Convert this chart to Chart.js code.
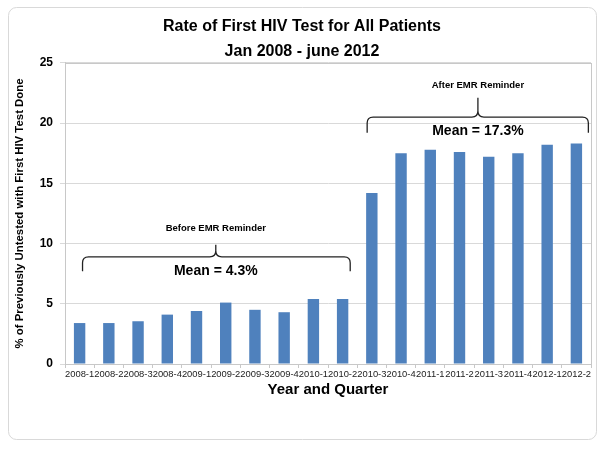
<!DOCTYPE html>
<html>
<head>
<meta charset="utf-8">
<script src="https://cdn.jsdelivr.net/npm/chart.js@4.4.0/dist/chart.umd.min.js"></script>
<style>
html, body { margin: 0; padding: 0; background: #fff; }
#wrap { width: 601px; height: 453px; }
</style>
</head>
<body>
<div id="wrap"><canvas id="hivChart" width="601" height="453"></canvas></div>
<script>
'use strict';

// data
var quarters = ['2008-1', '2008-2', '2008-3', '2008-4', '2009-1', '2009-2', '2009-3', '2009-4', '2010-1',
  '2010-2', '2010-3', '2010-4', '2011-1', '2011-2', '2011-3', '2011-4', '2012-1', '2012-2'];
var rates = [3.4, 3.4, 3.55, 4.1, 4.4, 5.1, 4.5, 4.3, 5.4, 5.4,
  14.2, 17.5, 17.8, 17.6, 17.2, 17.5, 18.2, 18.3];
var titleLines = ['Rate of First HIV Test for All Patients', 'Jan 2008 - june 2012'];
var beforeNote = ['Before EMR Reminder', 'Mean = 4.3%'];
var afterNote = ['After EMR Reminder', 'Mean = 17.3%'];

var FONT = "'Liberation Sans', Arial, Helvetica, sans-serif";
Chart.defaults.font.family = FONT;
Chart.defaults.color = '#000';

// curly brace, opening downward, tip on top
function brace(ctx, x1, x2, xTip, yEnd, yMid, yTip) {
  var r = 6;
  ctx.beginPath();
  ctx.moveTo(x1, yEnd);
  ctx.lineTo(x1, yMid + r);
  ctx.quadraticCurveTo(x1, yMid, x1 + r, yMid);
  ctx.lineTo(xTip - r, yMid);
  ctx.quadraticCurveTo(xTip, yMid, xTip, yMid - r);
  ctx.lineTo(xTip, yTip);
  ctx.moveTo(xTip, yMid - r);
  ctx.quadraticCurveTo(xTip, yMid, xTip + r, yMid);
  ctx.lineTo(x2 - r, yMid);
  ctx.quadraticCurveTo(x2, yMid, x2, yMid + r);
  ctx.lineTo(x2, yEnd);
  ctx.stroke();
}

var framePlugin = {
  id: 'frame',
  beforeDraw: function (chart) {
    var ctx = chart.ctx;
    ctx.save();
    ctx.fillStyle = '#fff';
    ctx.fillRect(0, 0, chart.width, chart.height);
    ctx.strokeStyle = '#d9d9d9';
    ctx.lineWidth = 1;
    ctx.beginPath();
    ctx.roundRect(8.5, 7.5, 588, 432, 8);
    ctx.stroke();
    ctx.restore();
  },
  afterDatasetsDraw: function (chart) {
    var ctx = chart.ctx, a = chart.chartArea;
    var xs = chart.scales.x, ys = chart.scales.y;
    ctx.save();
    ctx.strokeStyle = '#c8c8c8';
    ctx.lineWidth = 1;
    ctx.strokeRect(Math.round(a.left) + 0.5, Math.round(a.top) + 0.5,
      Math.round(a.right - a.left), Math.round(a.bottom - a.top));

    ctx.strokeStyle = '#222';
    ctx.lineWidth = 1.3;
    ctx.fillStyle = '#000';
    ctx.textAlign = 'center';
    ctx.textBaseline = 'middle';

    // before reminder
    var tipB = xs.getPixelForValue(4.66);
    brace(ctx, xs.getPixelForValue(0.1), xs.getPixelForValue(9.26), tipB,
      ys.getPixelForValue(7.7), ys.getPixelForValue(8.9), ys.getPixelForValue(9.9));
    ctx.font = 'bold 9.5px ' + FONT;
    ctx.fillText(beforeNote[0], tipB, ys.getPixelForValue(11.3));
    ctx.font = 'bold 14px ' + FONT;
    ctx.fillText(beforeNote[1], tipB, ys.getPixelForValue(7.7));

    // after reminder
    var tipA = xs.getPixelForValue(13.63);
    brace(ctx, xs.getPixelForValue(9.84), xs.getPixelForValue(17.41), tipA,
      ys.getPixelForValue(19.2), ys.getPixelForValue(20.5), ys.getPixelForValue(22.1));
    ctx.font = 'bold 9.5px ' + FONT;
    ctx.fillText(afterNote[0], tipA, ys.getPixelForValue(23.1));
    ctx.font = 'bold 14px ' + FONT;
    ctx.fillText(afterNote[1], tipA, ys.getPixelForValue(19.35));
    ctx.restore();
  }
};

var ctx = document.getElementById('hivChart').getContext('2d');
var hivChart = new Chart(ctx, {
  type: 'bar',
  data: {
    labels: quarters,
    datasets: [{
      data: rates,
      backgroundColor: '#4f81bd',
      borderWidth: 0,
      barPercentage: 0.39,
      categoryPercentage: 1
    }]
  },
  options: {
    responsive: false,
    animation: false,
    layout: { padding: { left: 13, right: 10, top: 0, bottom: 54 } },
    plugins: {
      legend: { display: false },
      tooltip: { enabled: false },
      title: {
        display: true,
        text: titleLines,
        color: '#000',
        font: { size: 16, weight: 'bold', lineHeight: 1.56 },
        padding: { top: 14, bottom: -1 }
      }
    },
    scales: {
      x: {
        offset: true,
        grid: { display: true, drawOnChartArea: false, offset: true, tickLength: 4, color: '#c8c8c8' },
        border: { color: '#c8c8c8' },
        ticks: { autoSkip: false, maxRotation: 0, minRotation: 0, padding: 1, color: '#222', font: { size: 9.4 } },
        title: { display: true, text: 'Year and Quarter', color: '#000', padding: 0, font: { size: 15, weight: 'bold', lineHeight: 1.2 } },
        afterFit: function (s) { s.height = 35; }
      },
      y: {
        min: 0,
        max: 25,
        grid: { color: '#d9d9d9', tickLength: 5 },
        border: { color: '#c8c8c8' },
        ticks: { stepSize: 5, padding: 7, color: '#000', font: { size: 12, weight: 'bold' } },
        title: { display: true, text: '% of Previously Untested with First HIV Test Done', color: '#000', padding: 0, font: { size: 11.4, weight: 'bold' } },
        afterFit: function (s) { s.width = 52; }
      }
    }
  },
  plugins: [framePlugin]
});
</script>
</body>
</html>
